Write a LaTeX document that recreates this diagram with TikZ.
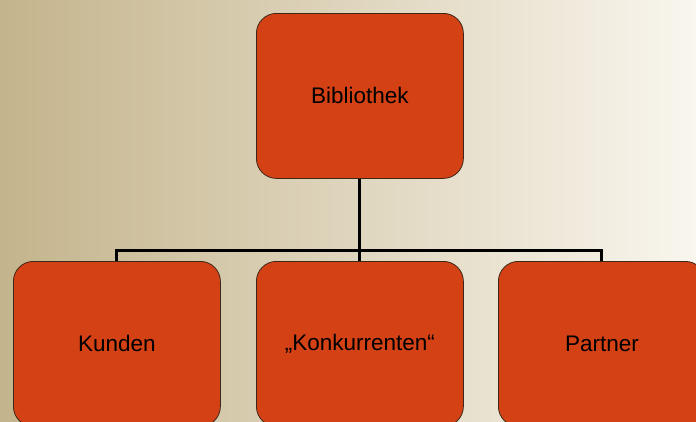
\documentclass[tikz,border=0pt]{standalone}
\usepackage{fontspec}
\setmainfont{Liberation Sans}
\definecolor{bgleft}{RGB}{196,180,140}
\definecolor{bgright}{RGB}{249,246,238}
\definecolor{boxfill}{RGB}{211,65,21}
\definecolor{boxline}{RGB}{60,40,25}
\begin{document}
\begin{tikzpicture}[x=1pt,y=-1pt,
  orgbox/.style={draw=boxline,line width=0.8pt,fill=boxfill,rounded corners=20pt,
    minimum width=207pt,minimum height=165pt,inner sep=0pt,
    font=\fontsize{22.5}{27}\selectfont,text=black,anchor=north west},
  link/.style={draw=black,line width=3pt}]
\useasboundingbox (0,0) rectangle (696,421);
\shade[left color=bgleft,right color=bgright] (0,0) rectangle (696,421);
\node[orgbox] (bib) at (256,13) {Bibliothek};
\node[orgbox] (kun) at (13,261) {Kunden};
\node[orgbox] (kon) at (256,261) {„Konkurrenten“};
\node[orgbox] (par) at (498,261) {Partner};
\coordinate (hy) at (0,250.5);
\draw[link] (bib.south) -- (bib.south |- hy);
\draw[link] (kun.north) -- (kun.north |- hy) -- (par.north |- hy) -- (par.north);
\draw[link] (kon.north) -- (kon.north |- hy);
\end{tikzpicture}
\end{document}
